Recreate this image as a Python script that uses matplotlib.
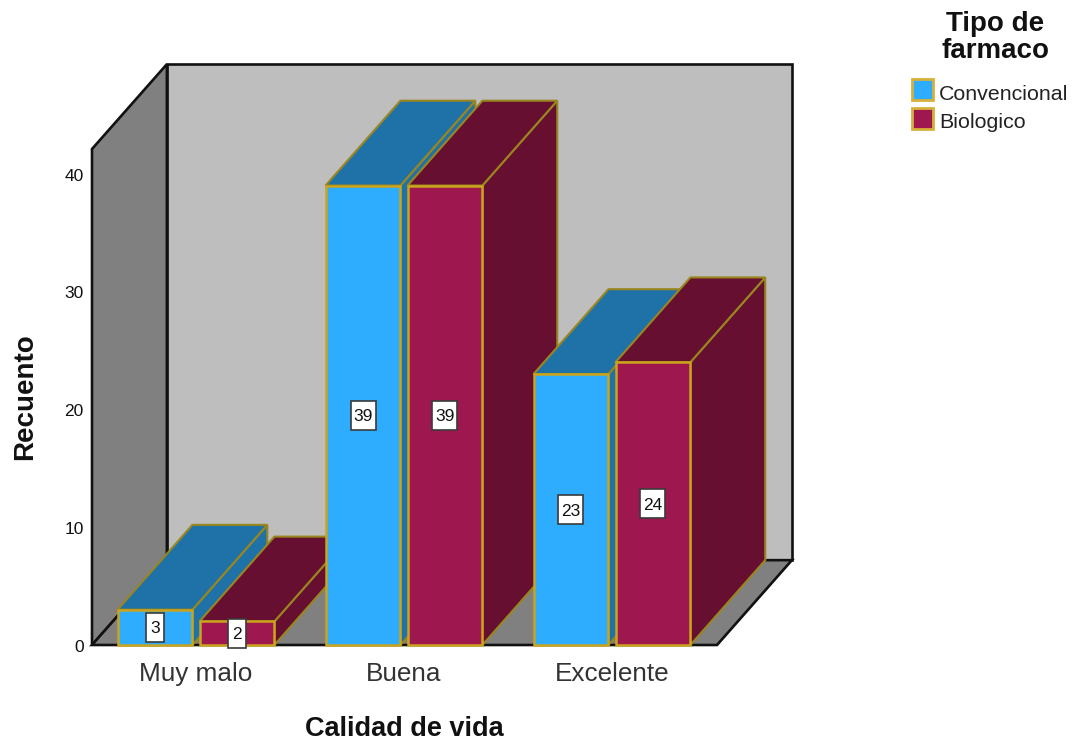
import matplotlib
matplotlib.use('Agg')
import matplotlib.pyplot as plt
from matplotlib.patches import Polygon, Rectangle

plt.rcParams['font.family'] = ['Liberation Sans', 'DejaVu Sans']

# --- DATA ---
CATEGORIES = ['Muy malo', 'Buena', 'Excelente']
CONVENCIONAL = [3, 39, 23]
BIOLOGICO = [2, 39, 24]
Y_TICKS = [0, 10, 20, 30, 40]

# --- STYLE ---
W, H = 1076, 740
C_WALL = '#bebebe'
C_SIDE = '#808080'
C_EDGE = '#c9a41c'
C_EDGE_BACK = '#9a861f'
C_BLUE = ('#2eadff', '#1f72a8')
C_RED = ('#9e174e', '#660f30')
C_TEXT = '#111111'

# Depth of the 3D box, in axis units
BAR_W = 0.36
BAR_OFF = 0.197
DEPTH_X = 0.36
DEPTH_Y = 7.2
X_MIN, X_MAX = -0.5, 2.505
Y_MAX = 42.1
PX_X = 208.0   # pixels per category
PX_Y = 11.78   # pixels per count

fig = plt.figure(figsize=(W / 100, H / 100), dpi=100)
ax = fig.add_axes([92 / W, (H - 645) / H, (717 - 92) / W, (645 - 149) / H])
ax.set_xlim(X_MIN, X_MAX)
ax.set_ylim(0, Y_MAX)
ax.axis('off')


def poly(pts, face, edge, lw=1.5, z=2):
    ax.add_patch(Polygon(pts, closed=True, facecolor=face, edgecolor=edge,
                         linewidth=lw, clip_on=False, joinstyle='miter', zorder=z))


def draw_bar(x, val, colors, z):
    l, r = x - BAR_W / 2, x + BAR_W / 2
    # side, top and front faces
    poly([(r, 0), (r + DEPTH_X, DEPTH_Y), (r + DEPTH_X, val + DEPTH_Y), (r, val)],
         colors[1], C_EDGE_BACK, z=z)
    poly([(l, val), (l + DEPTH_X, val + DEPTH_Y), (r + DEPTH_X, val + DEPTH_Y), (r, val)],
         colors[1], C_EDGE_BACK, z=z)
    poly([(l, 0), (r, 0), (r, val), (l, val)], colors[0], C_EDGE, lw=1.8, z=z)


# Walls and floor
poly([(X_MIN + DEPTH_X, DEPTH_Y), (X_MAX + DEPTH_X, DEPTH_Y),
      (X_MAX + DEPTH_X, Y_MAX + DEPTH_Y), (X_MIN + DEPTH_X, Y_MAX + DEPTH_Y)],
     C_WALL, '#111111', lw=1.9, z=1)
poly([(X_MIN, 0), (X_MIN + DEPTH_X, DEPTH_Y), (X_MIN + DEPTH_X, Y_MAX + DEPTH_Y), (X_MIN, Y_MAX)],
     C_SIDE, '#111111', lw=1.9, z=1)
poly([(X_MIN, 0), (X_MAX, 0), (X_MAX + DEPTH_X, DEPTH_Y), (X_MIN + DEPTH_X, DEPTH_Y)],
     C_SIDE, '#111111', lw=1.9, z=1)

# Bars, left to right so nearer faces overlap
z = 3
for i in range(len(CATEGORIES)):
    draw_bar(i - BAR_OFF, CONVENCIONAL[i], C_BLUE, z)
    draw_bar(i + BAR_OFF, BIOLOGICO[i], C_RED, z + 1)
    z += 2

# Value labels: boxes sized in pixels so they stay tall and narrow
for i in range(len(CATEGORIES)):
    for off, vals in ((-BAR_OFF, CONVENCIONAL), (BAR_OFF, BIOLOGICO)):
        txt = str(vals[i])
        bw = (10 + 7.5 * len(txt)) / PX_X
        bh = 29 / PX_Y
        ax.add_patch(Rectangle((i + off - bw / 2, vals[i] / 2 - bh / 2), bw, bh,
                               facecolor='white', edgecolor='#3a3a3a', linewidth=1.2,
                               clip_on=False, zorder=19))
        ax.text(i + off, vals[i] / 2, txt, ha='center', va='center_baseline',
                fontsize=12.5, color=C_TEXT, zorder=20)

# Tick labels
for t in Y_TICKS:
    ax.text(X_MIN - 0.04, t - 0.08, str(t), ha='right', va='center_baseline',
            fontsize=12.5, color=C_TEXT)
for i, name in enumerate(CATEGORIES):
    ax.text(i, -2.48, name, ha='center', va='center', fontsize=18.8, color='#333333')


def px(x, y):
    return x / W, (H - y) / H


# Axis titles
fig.text(*px(404, 729), 'Calidad de vida', ha='center', va='center',
         fontsize=19.5, fontweight='bold', color=C_TEXT)
fig.text(*px(25, 397), 'Recuento', ha='center', va='center', rotation=90,
         fontsize=20, fontweight='bold', color=C_TEXT)

# Legend
fig.text(*px(995, 24), 'Tipo de', ha='center', va='center', fontsize=20, fontweight='bold', color=C_TEXT)
fig.text(*px(995, 51), 'farmaco', ha='center', va='center', fontsize=20, fontweight='bold', color=C_TEXT)
for y, label, colors in ((79, 'Convencional', C_BLUE), (108, 'Biologico', C_RED)):
    fig.add_artist(Rectangle(px(912, y + 21), 21 / W, 21 / H, transform=fig.transFigure,
                             facecolor=colors[0], edgecolor='#d6b13a', linewidth=2))
    fig.text(*px(939, y + 15), label, ha='left', va='center', fontsize=15.4, color='#222222')

fig.savefig('out.png', dpi=100, facecolor='white')
